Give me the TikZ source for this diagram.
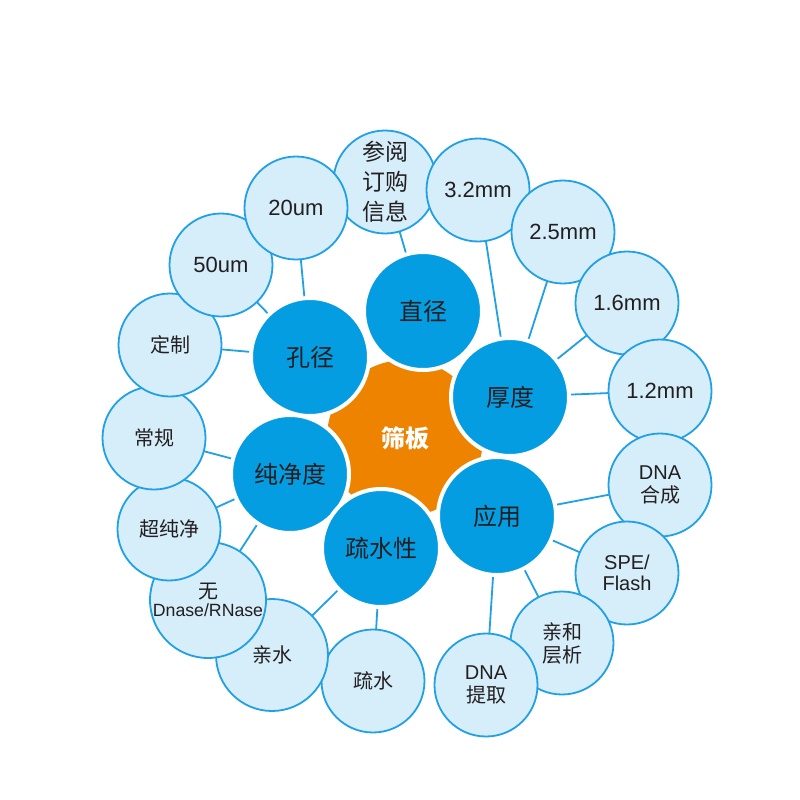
\documentclass[tikz,border=0pt]{standalone}
\usepackage{fontspec}
\setmainfont{Liberation Sans}
\newfontfamily\cjk{Noto Sans CJK SC}
\usetikzlibrary{backgrounds}
\definecolor{cblue}{HTML}{049DE2}
\definecolor{clight}{HTML}{D6EDFA}
\definecolor{cline}{HTML}{22A0E4}
\definecolor{corange}{HTML}{EE8300}
\definecolor{ctext}{HTML}{231F20}
\tikzset{
  lc/.style={circle, draw=cline, line width=1.8pt, fill=clight, minimum size=103pt,
    inner sep=0pt, align=center, text=ctext, font=\fontsize{20}{23}\selectfont},
  bc/.style={circle, draw=white, line width=4pt, fill=cblue, minimum size=118pt,
    inner sep=0pt, align=center, text=ctext, font=\cjk\fontsize{24}{28}\selectfont},
  hub/.style={circle, fill=corange, minimum size=156pt, inner sep=0pt,
    text=white, font=\cjk\bfseries\fontsize{24}{28}\selectfont},
  link/.style={draw=cline, line width=1.8pt}
}
\begin{document}
\begin{tikzpicture}[x=1pt,y=-1pt]
\useasboundingbox (0,0) rectangle (800,800);
% hub
\node[hub] (sb) at (405,438) {筛板};
% main blue circles
\node[bc] (zj) at (423,311) {直径};
\node[bc] (kj) at (310,357) {孔径};
\node[bc] (hd) at (510,397) {厚度};
\node[bc] (cjd) at (290,474) {纯净度};
\node[bc] (yy) at (497,516) {应用};
\node[bc] (ssx) at (381,548) {疏水性};
% light circles
\node[lc, font=\cjk\fontsize{23}{30}\selectfont] (ck) at (385,182) {参阅\\订购\\信息};
\node[lc, font=\fontsize{22}{26}\selectfont] (m32) at (478,190) {3.2mm};
\node[lc, font=\fontsize{22}{26}\selectfont] (m25) at (563,232) {2.5mm};
\node[lc, font=\fontsize{22}{26}\selectfont] (m16) at (627,303) {1.6mm};
\node[lc, font=\fontsize{22}{26}\selectfont] (m12) at (660,391) {1.2mm};
\node[lc] (hc) at (660,485) {DNA\\{\cjk 合成}};
\node[lc, font=\fontsize{20}{21}\selectfont] (spe) at (627,573) {SPE/\\Flash};
\node[lc] (qh) at (562,643) {\cjk 亲和\\\cjk 层析};
\node[lc] (tq) at (486,685) {DNA\\{\cjk 提取}};
\node[lc] (ss) at (373,681) {\cjk 疏水};
\node[lc, minimum size=112pt] (qs) at (272,655) {\cjk 亲水};
\node[lc, minimum size=116pt, font=\fontsize{17.7}{18}\selectfont] (wd) at (208,600) {{\cjk\fontsize{20}{18}\selectfont 无}\\Dnase/RNase};
\node[lc] (ccj) at (169,529) {\cjk 超纯净};
\node[lc] (cg) at (154,438) {\cjk 常规};
\node[lc] (dz) at (170,345) {\cjk 定制};
\node[lc, font=\fontsize{22}{26}\selectfont] (u50) at (221,265) {50um};
\node[lc, font=\fontsize{22}{26}\selectfont] (u20) at (296,208) {20um};
% links
\begin{scope}[on background layer]
\fill[white] (0,0) rectangle (800,800);
\draw[link] (ck.center) -- (zj.center);
\draw[link] (u20.center) -- (kj.center);
\draw[link] (u50.center) -- (kj.center);
\draw[link] (dz.center) -- (kj.center);
\draw[link] (m32.center) -- (hd.center);
\draw[link] (m25.center) -- (hd.center);
\draw[link] (m16.center) -- (hd.center);
\draw[link] (m12.center) -- (hd.center);
\draw[link] (cg.center) -- (cjd.center);
\draw[link] (ccj.center) -- (cjd.center);
\draw[link] (wd.center) -- (cjd.center);
\draw[link] (qs.center) -- (ssx.center);
\draw[link] (ss.center) -- (ssx.center);
\draw[link] (hc.center) -- (yy.center);
\draw[link] (spe.center) -- (yy.center);
\draw[link] (qh.center) -- (yy.center);
\draw[link] (tq.center) -- (yy.center);
\end{scope}
\end{tikzpicture}
\end{document}
